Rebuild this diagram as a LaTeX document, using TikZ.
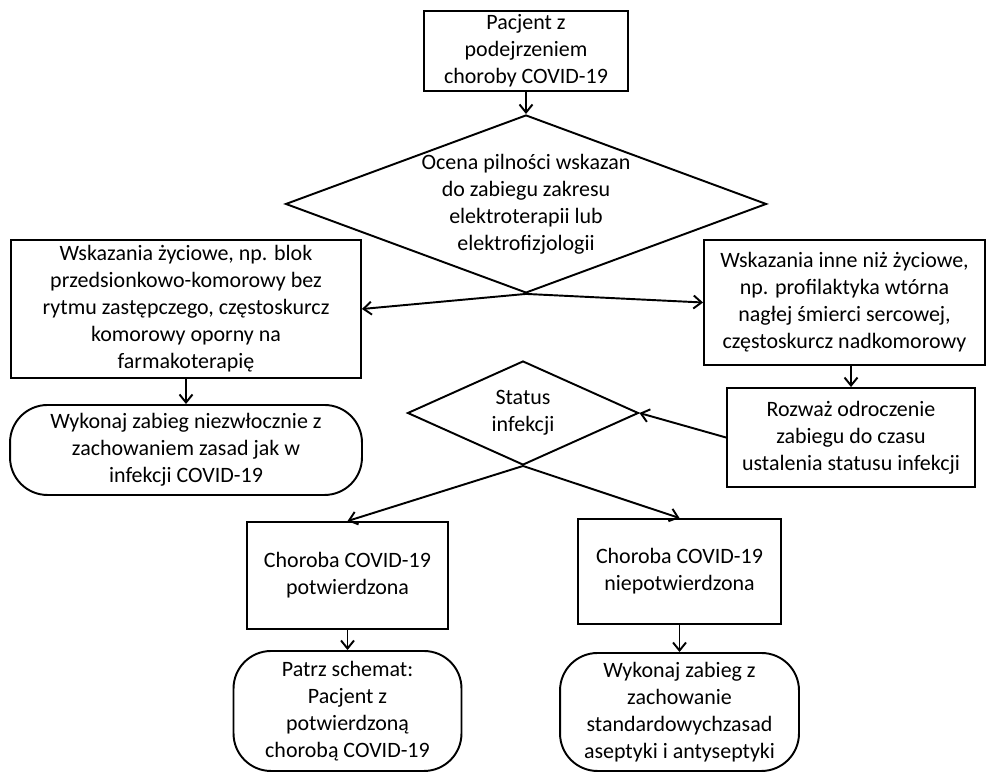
\documentclass[tikz,border=0pt]{standalone}
\usepackage{fontspec}
\setmainfont{Carlito}
\usetikzlibrary{arrows.meta}
\usetikzlibrary{shapes}
\tikzstyle{box} = [rectangle, draw, align=center, inner sep=1pt]
\tikzstyle{dec} = [diamond, draw, inner sep=0pt]
\tikzstyle{term} = [rectangle, draw, rounded corners=0.75cm, align=center, inner sep=1pt]

\begin{document}
\begin{tikzpicture}[->,>={Straight Barb[length=1.6mm,width=2.6mm]},line width=1.1pt,
                    x=0.02cm,y=-0.02cm,font=\fontsize{12.5}{15.4}\selectfont]
  \useasboundingbox (0,0) rectangle (989,774);

  \node[box,minimum width=4.08cm,minimum height=1.6cm] (pacjent) at (526,51)
        {Pacjent z\\podejrzeniem\\choroby COVID-19};
  \node[dec,minimum width=9.62cm,minimum height=3.56cm,
        label={[align=center]center:Ocena pilności wskazan\\do zabiegu zakresu\\elektroterapii lub\\elektrofizjologii}]
        (ocena) [below of=pacjent,node distance=3.06cm] {};

  \node[box,minimum width=7cm,minimum height=2.76cm] (zyciowe) at (186,309)
        {Wskazania życiowe, np. blok\\przedsionkowo-komorowy bez\\rytmu zastępczego, częstoskurcz\\komorowy oporny na\\farmakoterapię};
  \node[term,minimum width=7.04cm,minimum height=1.8cm] (niezwl) [below of=zyciowe,node distance=2.82cm]
        {Wykonaj zabieg niezwłocznie z\\zachowaniem zasad jak w\\infekcji COVID-19};

  \node[box,minimum width=5.62cm,minimum height=2.5cm] (inne) at (844.5,302.5)
        {Wskazania inne niż życiowe,\\np. profilaktyka wtórna\\nagłej śmierci sercowej,\\częstoskurcz nadkomorowy};
  \node[box,minimum width=4.96cm,minimum height=1.98cm] (rozwaz) at (851,437.5)
        {Rozważ odroczenie\\zabiegu do czasu\\ustalenia statusu infekcji};

  \node[dec,minimum width=4.62cm,minimum height=2.08cm,
        label={[align=center]center:Status\\infekcji}] (status) at (523,413) {};

  \node[box,minimum width=4.02cm,minimum height=2.14cm] (potw) at (347.5,575.5)
        {Choroba COVID-19\\potwierdzona};
  \node[box,minimum width=4.06cm,minimum height=2.1cm] (niepotw) at (679.5,571.5)
        {Choroba COVID-19\\niepotwierdzona};
  \node[term,minimum width=4.56cm,minimum height=2.4cm] (patrz) [below of=potw,node distance=2.71cm]
        {Patrz schemat:\\Pacjent z\\potwierdzoną\\chorobą COVID-19};
  \node[term,minimum width=4.78cm,minimum height=2.36cm] (wykonaj) [below of=niepotw,node distance=2.81cm]
        {Wykonaj zabieg z\\zachowanie\\standardowychzasad\\aseptyki i antyseptyki};

  \path (pacjent) edge (ocena)
        (ocena.south) edge (zyciowe.east)
        (ocena.south) edge (inne.west)
        (zyciowe) edge (niezwl)
        (inne.south -| rozwaz.north) edge (rozwaz.north)
        (rozwaz.west) edge (status.east)
        (status.south) edge (potw.north)
        (status.south) edge (niepotw.north)
        (potw) edge (patrz)
        (niepotw) edge (wykonaj);
\end{tikzpicture}
\end{document}
